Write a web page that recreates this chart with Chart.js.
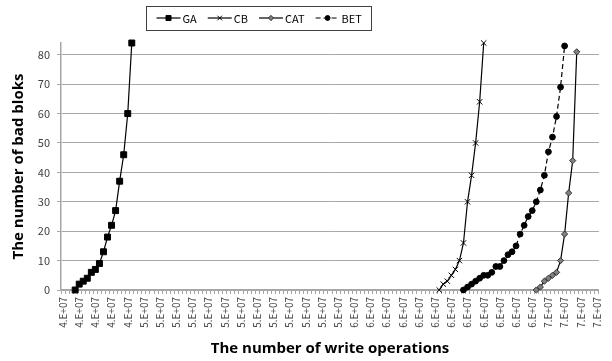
<!DOCTYPE html>
<html>
<head>
<meta charset="utf-8">
<script src="https://cdn.jsdelivr.net/npm/chart.js@4/dist/chart.umd.min.js"></script>
<style>
  html, body { margin: 0; padding: 0; background: #ffffff; }
  #wrap { width: 612px; height: 361px; position: relative; }
</style>
</head>
<body>
<div id="wrap"><canvas id="c" width="612" height="361"></canvas></div>
<script>
// Category grid on the x axis: one category every 200,000 writes.
const firstCategory = 41200000;
const categoryStep = 200000;
const categoryCount = 133;
const labelEvery = 4;

// Bad-block counts per scheme, against number of write operations.
const gaX = [41800000, 42000000, 42200000, 42400000, 42600000, 42800000, 43000000, 43200000,
             43400000, 43600000, 43800000, 44000000, 44200000, 44400000, 44600000];
const gaY = [0, 2, 3, 4, 6, 7, 9, 13, 18, 22, 27, 37, 46, 60, 84];

const cbX = [59800000, 60000000, 60200000, 60400000, 60600000, 60800000, 61000000, 61200000,
             61400000, 61600000, 61800000, 62000000];
const cbY = [0, 2, 3, 5, 7, 10, 16, 30, 39, 50, 64, 84];

const catX = [64600000, 64800000, 65000000, 65200000, 65400000, 65600000, 65800000, 66000000,
              66200000, 66400000, 66600000];
const catY = [0, 1, 3, 4, 5, 6, 10, 19, 33, 44, 81];

const betX = [61000000, 61200000, 61400000, 61600000, 61800000, 62000000, 62200000, 62400000,
              62600000, 62800000, 63000000, 63200000, 63400000, 63600000, 63800000, 64000000,
              64200000, 64400000, 64600000, 64800000, 65000000, 65200000, 65400000, 65600000,
              65800000, 66000000];
const betY = [0, 1, 2, 3, 4, 5, 5, 6, 8, 8, 10, 12, 13, 15, 19, 22, 25, 27, 30, 34, 39, 47,
              52, 59, 69, 83];

const yMax = 84;
const yTicks = [0, 10, 20, 30, 40, 50, 60, 70, 80];

const xTitle = 'The number of write operations';
const yTitle = 'The number of bad bloks';

const FONT = "'Noto Sans CJK KR', 'Open Sans', sans-serif";
const TITLE_FONT = "'Open Sans', 'Noto Sans CJK KR', sans-serif";

function toPoints(xs, ys) {
  return xs.map((x, i) => ({ x: x, y: ys[i] }));
}

// Spreadsheet style "0.E+00" number format
function sciLabel(v) {
  let exp = Math.floor(Math.log10(Math.abs(v)));
  let mant = Math.round(v / Math.pow(10, exp) + 1e-9);
  if (mant >= 10) { mant = 1; exp += 1; }
  const e = (exp < 10 ? '0' : '') + exp;
  return mant + '.E+' + e;
}

const categories = [];
for (let k = 0; k < categoryCount; k++) categories.push(firstCategory + k * categoryStep);

const series = [
  { label: 'GA', x: gaX, y: gaY, style: 'rect', radius: 4.2, fill: '#000000', stroke: '#000000', dash: [] },
  { label: 'CB', x: cbX, y: cbY, style: 'crossRot', radius: 3.8, fill: '#000000', stroke: '#000000', dash: [] },
  { label: 'CAT', x: catX, y: catY, style: 'rectRot', radius: 3.1, fill: '#808080', stroke: '#333333', dash: [] },
  { label: 'BET', x: betX, y: betY, style: 'circle', radius: 2.9, fill: '#000000', stroke: '#000000', dash: [5, 3] }
];

// Boxed legend above the plot
const boxedLegend = {
  id: 'boxedLegend',
  afterDraw(chart) {
    const ctx = chart.ctx;
    const cx = 259, cy = 18, boxH = 24;
    const sample = 24, textGap = 2, itemGap = 11, padX = 10;
    ctx.save();
    ctx.font = '11px ' + FONT;
    const widths = series.map(s => ctx.measureText(s.label).width);
    let total = padX * 2;
    widths.forEach((w, i) => { total += sample + textGap + w + (i < widths.length - 1 ? itemGap : 0); });
    const left = Math.round(cx - total / 2) + 0.5;
    ctx.strokeStyle = '#404040';
    ctx.lineWidth = 1;
    ctx.strokeRect(left, cy - boxH / 2 + 0.5, Math.round(total), boxH);
    let x = left + padX;
    series.forEach((s, i) => {
      ctx.strokeStyle = '#000000';
      ctx.lineWidth = 1.2;
      ctx.setLineDash(s.dash);
      ctx.beginPath();
      ctx.moveTo(x, cy);
      ctx.lineTo(x + sample, cy);
      ctx.stroke();
      ctx.setLineDash([]);
      ctx.fillStyle = s.fill;
      ctx.strokeStyle = s.stroke;
      ctx.lineWidth = 1;
      Chart.helpers.drawPoint(ctx, { pointStyle: s.style, radius: s.radius * 0.85, borderWidth: 1, rotation: 0 }, x + sample / 2, cy);
      ctx.fillStyle = '#000000';
      ctx.textBaseline = 'middle';
      ctx.textAlign = 'left';
      ctx.fillText(s.label, x + sample + textGap, cy + 0.5);
      x += sample + textGap + widths[i] + itemGap;
    });
    ctx.restore();
  }
};

new Chart(document.getElementById('c'), {
  type: 'scatter',
  data: {
    datasets: series.map(s => ({
      label: s.label,
      data: toPoints(s.x, s.y),
      showLine: true,
      borderColor: '#000000',
      borderWidth: 1.2,
      borderDash: s.dash,
      pointStyle: s.style,
      pointRadius: s.radius,
      pointHoverRadius: s.radius,
      pointBackgroundColor: s.fill,
      pointBorderColor: s.stroke,
      pointBorderWidth: 1,
      tension: 0,
      clip: false
    }))
  },
  options: {
    responsive: false,
    animation: false,
    events: [],
    layout: { padding: { top: 43, right: 9, left: 0, bottom: 0 } },
    plugins: {
      legend: { display: false },
      tooltip: { enabled: false }
    },
    scales: {
      x: {
        type: 'linear',
        min: firstCategory - categoryStep / 2,
        max: firstCategory + (categoryCount - 0.5) * categoryStep,
        afterBuildTicks(scale) {
          scale.ticks = categories.map(v => ({ value: v }));
        },
        afterFit(scale) { scale.height = 71; },
        ticks: {
          autoSkip: false,
          minRotation: 90,
          maxRotation: 90,
          padding: 3,
          color: '#404040',
          font: { family: FONT, size: 10 },
          callback(value, index) {
            return index % labelEvery === 0 ? sciLabel(value) : '';
          }
        },
        grid: {
          drawOnChartArea: false,
          offset: true,
          tickLength: 4,
          color: '#a6a6a6',
          lineWidth: 1
        },
        border: { color: '#a6a6a6', width: 1.5 },
        title: {
          display: true,
          text: xTitle,
          color: '#000000',
          font: { family: TITLE_FONT, size: 15, weight: 'bold' },
          padding: { top: 0, bottom: 3 }
        }
      },
      y: {
        min: 0,
        max: yMax,
        afterBuildTicks(scale) {
          scale.ticks = yTicks.map(v => ({ value: v }));
        },
        afterFit(scale) { scale.width = 61; },
        ticks: {
          padding: 7,
          color: '#404040',
          font: { family: FONT, size: 11 }
        },
        grid: {
          color: '#a8a8a8',
          lineWidth: 1,
          tickLength: 4
        },
        border: { color: '#a6a6a6', width: 1.5 },
        title: {
          display: true,
          text: yTitle,
          color: '#000000',
          font: { family: TITLE_FONT, size: 15, weight: 'bold' },
          padding: { top: 10, bottom: 0 }
        }
      }
    }
  },
  plugins: [boxedLegend]
});
</script>
</body>
</html>
